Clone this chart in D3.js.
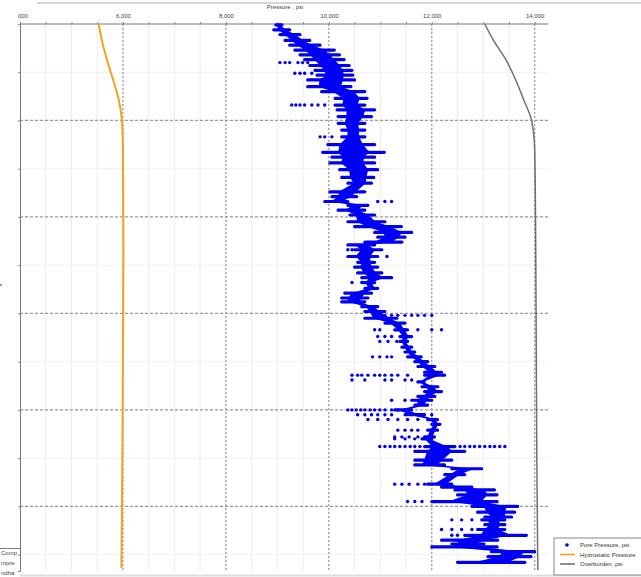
<!DOCTYPE html>
<html>
<head>
<meta charset="utf-8">
<script src="https://cdn.jsdelivr.net/npm/d3@7"></script>
<style>
  body { margin: 0; background: #fff; }
  svg { display: block; }
  text { font-family: "Liberation Sans", Arial, sans-serif; }
</style>
</head>
<body>
<div id="chart"></div>
<script>
// pressure (psi) along the top, depth (ft) down the side
const pressureTicks = [4000, 6000, 8000, 10000, 12000, 14000];
const depthTicks = [13000, 14000, 15000, 16000, 17000, 18000];

const hydroDepth = [13000, 13170, 13370, 13580, 13790, 14000, 14310, 15340, 16380, 17410, 18640];
const hydroPsi   = [5530, 5590, 5690, 5810, 5920, 5980, 6000, 6010, 6000, 5990, 5970];

const overDepth = [13000, 13170, 13370, 13580, 13790, 14000, 14310, 15340, 16380, 17410, 18660];
const overPsi   = [13030, 13200, 13440, 13630, 13790, 13940, 14000, 14020, 14030, 14040, 14060];

// pore pressure band: at each depth, the low and high readings
const poreDepth = [
  13010,13060,13110,13170,13220,13270,13320,13370,13430,13480,
  13530,13580,13650,13700,13770,13840,13890,13960,14030,14100,
  14170,14250,14330,14380,14440,14510,14590,14650,14740,14790,
  14840,14880,14930,14980,15050,15100,15160,15210,15260,15290,
  15340,15410,15470,15520,15580,15630,15680,15740,15790,15840,
  15880,15930,15980,16050,16100,16170,16240,16290,16350,16400,
  16450,16500,16550,16610,16640,16710,16760,16810,16860,16900,
  16950,17000,17050,17100,17150,17210,17280,17300,17380,17430,
  17520,17570,17610,17670,17770,17800,17830,17880,17950,18000,
  18060,18110,18140,18190,18240,18300,18350,18390,18420,18470,18520,18580];
const poreMin = [
  8970,8930,9050,9150,9240,9340,9440,9530,9630,9730,
  9770,9590,9590,9860,10120,10120,10160,10180,10180,10250,
  10250,9980,9880,10060,10020,10210,10250,10370,10020,10060,
  9920,10370,10180,10410,10370,10500,10890,10950,10700,10370,
  10500,10370,10560,10500,10560,10640,10660,10700,10310,10250,
  10250,10640,10700,10700,11090,11280,11380,11380,11420,11480,
  11530,11670,11730,11860,11860,11730,11810,11860,11730,11610,
  11670,11280,11480,11920,12000,11920,11860,11810,11860,11670,
  11670,11670,12390,12250,11920,12190,12450,12500,12000,12780,
  12890,13030,12970,13030,12890,12640,12190,12390,12000,13160,13090,12500];
const poreMax = [
  9090,9240,9440,9630,9830,10120,10210,10310,10410,10450,
  10470,10500,10450,10700,10760,10700,10890,10830,10700,10700,
  10700,10890,11090,10890,10890,10950,10890,10830,10700,10560,
  10370,10760,10700,10890,11090,11420,11610,11480,11420,10890,
  11030,10950,10890,10950,11030,11220,10890,10950,10830,10760,
  10700,10950,11090,11340,11480,11530,11610,11530,11610,11670,
  11810,11920,12060,12190,12250,11860,12120,12190,12060,12000,
  11920,11610,11860,12120,12160,12120,12060,12000,12450,12640,
  12390,12250,12970,12640,12390,12780,13220,13280,13280,13670,
  13610,13550,13420,13420,13420,13860,13280,13030,13280,14000,13940,13810];

// scattered pore pressure readings off the main band
const streakDepth = [13400, 13510, 13840, 14170, 14840, 15340, 15410, 15680, 16020, 16170,
  16240, 16290, 16450, 16640, 16690, 16900, 17000, 17050, 17100, 17210,
  17280, 17300, 17380, 17770, 17950, 18140, 18240, 18300];
const streakPsi = [
  [9050, 9150, 9240, 9400, 9490, 9590],
  [9340, 9440, 9530, 9670],
  [9280, 9360, 9440, 9530, 9670, 9790, 9920],
  [9830, 9920, 10060],
  [10950, 11090, 11220],
  [10370, 10450],
  [11130],
  [10450, 10640],
  [11090, 11220, 11340, 11480, 11610, 11730, 11860, 12000],
  [10890, 10990, 11480, 11730, 12000, 12190],
  [10950, 11090, 11220],
  [10990, 11150, 11320],
  [10850, 10990, 11130, 11220],
  [10450, 10560, 10640, 10760, 10890, 10990, 11090, 11220, 11340, 11530],
  [10450, 10700, 11090, 11220, 11480, 11610],
  [11220, 11480],
  [10370, 10450, 10530, 10620, 10700, 10800, 10890, 10990, 11090, 11220, 11340, 11480],
  [10560, 10700, 10830, 10950, 11090, 11220, 11730, 12000],
  [10760, 10950, 11150, 11340, 11530, 11730],
  [11340, 11480, 11610, 11730],
  [11280, 11420, 11560, 11730],
  [11280, 11480, 11670],
  [10990, 11090, 11190, 11280, 11380, 11480, 11580, 11670, 11770, 12550, 12640, 12740, 12830, 12930, 13030, 13130, 13220, 13320, 13420],
  [11280, 11420, 11560, 11730, 11860],
  [11530, 11670, 11810],
  [12390, 12580, 12780],
  [12190, 12390, 12580, 12780],
  [12390, 12500]
];

const legendNames = ["Pore Pressure, psi", "Hydrostatic Pressure", "Overburden, psi"];
const colors = { pore: "#0000f5", hydro: "#f2a31b", over: "#707070" };

const W = 641, H = 577;
const svg = d3.select("#chart").append("svg").attr("width", W).attr("height", H);

const x = d3.scaleLinear().domain([4000, 14200]).range([20, 545]);
const y = d3.scaleLinear().domain([13000, 18670]).range([24, 571]);

// faint minor grid
const grid = svg.append("g");
grid.selectAll(".vminor").data(d3.range(4500, 14200, 500))
  .enter().append("line")
  .attr("x1", d => x(d)).attr("x2", d => x(d)).attr("y1", y(13000)).attr("y2", y(18670))
  .attr("stroke", "#ececec").attr("stroke-width", 1);
grid.selectAll(".hminor").data(d3.range(13500, 18670, 500))
  .enter().append("line")
  .attr("x1", x(4000)).attr("x2", 548).attr("y1", d => y(d)).attr("y2", d => y(d))
  .attr("stroke", "#f1f1f1").attr("stroke-width", 1);

// dashed major grid
grid.selectAll(".vmajor").data(pressureTicks.slice(1))
  .enter().append("line")
  .attr("x1", d => x(d)).attr("x2", d => x(d)).attr("y1", y(13000)).attr("y2", y(18670))
  .attr("stroke", "#9a9a9a").attr("stroke-width", 1.2).attr("stroke-dasharray", "2,2");
grid.selectAll(".hmajor").data(depthTicks.slice(1))
  .enter().append("line")
  .attr("x1", x(4000)).attr("x2", 550).attr("y1", d => y(d)).attr("y2", d => y(d))
  .attr("stroke", "#9a9a9a").attr("stroke-width", 1.2).attr("stroke-dasharray", "3,2");

// top axis
const xAxis = svg.append("g").attr("transform", "translate(0," + y(13000) + ")")
  .call(d3.axisTop(x).tickValues(d3.range(4000, 14200, 500)).tickSize(2)
    .tickFormat(d => pressureTicks.includes(d) ? d3.format(",")(d) : ""));
xAxis.select(".domain").attr("stroke", "#777").attr("d", "M20,0H548");
xAxis.selectAll(".tick line").attr("stroke", "#888");
xAxis.selectAll("text").attr("font-size", 6).attr("fill", "#444").attr("dy", "-1");

svg.append("text").attr("x", 285).attr("y", 9).attr("text-anchor", "middle")
  .attr("font-size", 6).attr("fill", "#444").text("Pressure , psi");

// left axis
const yAxis = svg.append("g").attr("transform", "translate(" + x(4000) + ",0)")
  .call(d3.axisLeft(y).tickValues(d3.range(13000, 18670, 500)).tickSize(2).tickFormat(""));
yAxis.select(".domain").attr("stroke", "#777");
yAxis.selectAll(".tick line").attr("stroke", "#888");

// hydrostatic and overburden
const line = d3.line().x(d => x(d[1])).y(d => y(d[0])).curve(d3.curveMonotoneY);
svg.append("path").datum(hydroDepth.map((d, i) => [d, hydroPsi[i]]))
  .attr("d", line).attr("fill", "none").attr("stroke", colors.hydro).attr("stroke-width", 2);
svg.append("path").datum(overDepth.map((d, i) => [d, overPsi[i]]))
  .attr("d", line).attr("fill", "none").attr("stroke", colors.over).attr("stroke-width", 1.5);

// pore pressure: dense core of the band, readings as dotted rows across it
const rows = poreDepth.map((d, i) => ({ d, lo: poreMin[i], hi: poreMax[i] }));
const pore = svg.append("g");
pore.append("path").datum(rows)
  .attr("d", d3.area().y(r => y(r.d))
    .x0(r => x(r.lo + (r.hi - r.lo) * 0.25)).x1(r => x(r.hi - (r.hi - r.lo) * 0.25)))
  .attr("fill", colors.pore);
pore.selectAll(".row").data(rows).enter().append("line")
  .attr("x1", r => x(r.lo)).attr("x2", r => x(r.hi))
  .attr("y1", r => y(r.d)).attr("y2", r => y(r.d))
  .attr("stroke", colors.pore).attr("stroke-width", 3.2)
  .attr("stroke-dasharray", "2.5,1.2").attr("stroke-linecap", "round");

const scatter = [];
streakDepth.forEach((d, i) => streakPsi[i].forEach(p => scatter.push([d, p])));
pore.selectAll(".sc").data(scatter).enter().append("circle")
  .attr("cx", d => x(d[1])).attr("cy", d => y(d[0])).attr("r", 1.7).attr("fill", colors.pore);

// left panel cut off at the image edge
svg.append("rect").attr("x", 0).attr("y", 0).attr("width", 18).attr("height", H).attr("fill", "#fff");
svg.append("line").attr("x1", 0).attr("x2", 20).attr("y1", 548.5).attr("y2", 548.5).attr("stroke", "#777");
["Comp", "mpre", "ndha"].forEach((t, i) => {
  svg.append("text").attr("x", 1).attr("y", 555 + i * 10).attr("font-size", 6).attr("fill", "#444").text(t);
});
svg.append("rect").attr("x", 0).attr("y", 284).attr("width", 2).attr("height", 2).attr("fill", "#8a9ab8");

// top frame line and bottom edge
svg.append("line").attr("x1", 37).attr("x2", W).attr("y1", 3).attr("y2", 3).attr("stroke", "#c8c8c8").attr("stroke-width", 1.5);
svg.append("line").attr("x1", 20).attr("x2", W).attr("y1", 575.5).attr("y2", 575.5).attr("stroke", "#dedede").attr("stroke-width", 2);

// legend
const lg = svg.append("g").attr("transform", "translate(554,538)");
lg.append("rect").attr("width", 90).attr("height", 37).attr("fill", "#fff").attr("stroke", "#888");
legendNames.forEach((name, i) => {
  const cy = 7 + i * 9.5;
  if (i === 0) {
    lg.append("circle").attr("cx", 13).attr("cy", cy).attr("r", 1.8).attr("fill", colors.pore);
  } else {
    lg.append("line").attr("x1", 6).attr("x2", 21).attr("y1", cy).attr("y2", cy)
      .attr("stroke", i === 1 ? colors.hydro : colors.over).attr("stroke-width", 1.6);
  }
  lg.append("text").attr("x", 26).attr("y", cy + 2).attr("font-size", 6).attr("fill", "#333").text(name);
});
</script>
</body>
</html>
